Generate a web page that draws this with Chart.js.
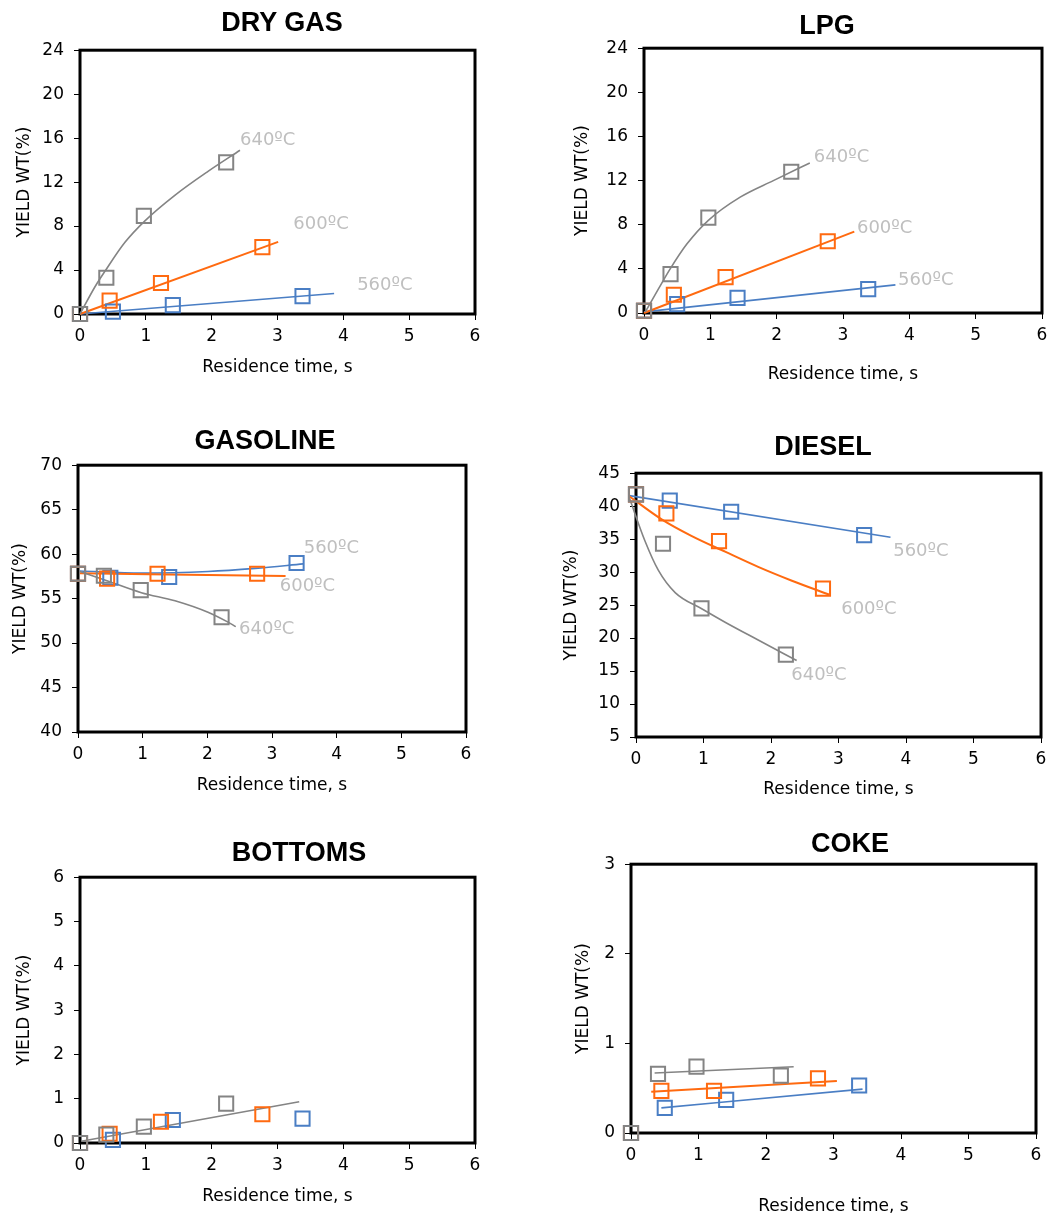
<!DOCTYPE html>
<html>
<head>
<meta charset="utf-8">
<script src="https://cdn.jsdelivr.net/npm/chart.js@4.4.0/dist/chart.umd.min.js"></script>
<style>
  html, body { margin: 0; padding: 0; background: #fff; }
  body { width: 1055px; height: 1219px; position: relative; overflow: hidden; }
  canvas { position: absolute; }
  .ttl { position: absolute; transform: translate(-50%, -50%); font: bold 27px "Liberation Sans", Arial, sans-serif; white-space: nowrap; color: #000; }
</style>
</head>
<body>
<script>
// residence times (s) for each temperature
const t560 = [0, 0.5, 1.41, 3.38];
const t600 = [0, 0.45, 1.23, 2.77];
const t640 = [0, 0.4, 0.97, 2.22];
const tempNames = ['560ºC', '600ºC', '640ºC'];

// DRY GAS
const dryGas560 = [0, 0.22, 0.81, 1.63];
const dryGas600 = [0, 1.22, 2.82, 6.09];
const dryGas640 = [0, 3.3, 8.93, 13.8];
const dryGasFit560X = [0, 3.86], dryGasFit560Y = [0, 1.87];
const dryGasFit600X = [0, 3.01], dryGasFit600Y = [0, 6.56];
const dryGasFit640X = [0, 0.23, 0.38, 0.68, 0.99, 1.44, 1.95, 2.43];
const dryGasFit640Y = [0, 2.5, 3.9, 6.5, 8.5, 10.8, 13.0, 14.9];

// LPG
const lpg560 = [0.2, 0.8, 1.37, 2.17];
const lpg600 = [0.2, 1.65, 3.25, 6.5];
const lpg640 = [0.2, 3.52, 8.65, 12.8];
const lpgFit560X = [0, 3.79], lpgFit560Y = [0.1, 2.55];
const lpgFit600X = [0, 3.17], lpgFit600Y = [0, 7.37];
const lpgFit640X = [0.02, 0.22, 0.39, 0.64, 0.97, 1.45, 1.95, 2.5];
const lpgFit640Y = [0.1, 2.2, 3.95, 6.2, 8.4, 10.5, 12.0, 13.6];

// GASOLINE
const gas560 = [57.8, 57.35, 57.43, 59.0];
const gas600 = [57.8, 57.25, 57.8, 57.8];
const gas640 = [57.8, 57.57, 55.96, 52.9];
const gasFit560X = [0.03, 0.98, 2.01, 2.74, 3.48], gasFit560Y = [58.1, 57.87, 58.05, 58.4, 58.9];
const gasFit600X = [0.03, 3.21], gasFit600Y = [57.85, 57.55];
const gasFit640X = [0.03, 0.47, 0.98, 1.5, 2.01, 2.32, 2.44];
const gasFit640Y = [58.05, 56.95, 55.66, 54.75, 53.46, 52.35, 51.85];

// DIESEL
const dsl560 = [41.8, 40.84, 39.15, 35.6];
const dsl600 = [41.8, 38.9, 34.7, 27.5];
const dsl640 = [41.8, 34.3, 24.5, 17.5];
const dslFit560X = [-0.1, 3.77], dslFit560Y = [41.6, 35.3];
const dslFit600X = [-0.1, 0.38, 0.82, 1.32, 1.81, 2.31, 2.86];
const dslFit600Y = [41.5, 38.0, 35.5, 33.1, 30.8, 28.7, 26.6];
const dslFit640X = [-0.1, 0.13, 0.33, 0.58, 0.98, 1.32, 1.81, 2.38];
const dslFit640Y = [41.3, 34.8, 30.3, 26.9, 24.4, 22.4, 19.7, 16.6];

// BOTTOMS
const btm560 = [0, 0.07, 0.52, 0.55];
const btm600 = [0, 0.21, 0.48, 0.65];
const btm640 = [0, 0.19, 0.37, 0.89];
const btmFit640X = [0.02, 3.33], btmFit640Y = [0.04, 0.93];

// COKE
const coke560 = [0, 0.28, 0.37, 0.53];
const coke600 = [0, 0.47, 0.47, 0.61];
const coke640 = [0, 0.66, 0.74, 0.64];
const cokeFit560X = [0.45, 3.43], cokeFit560Y = [0.28, 0.49];
const cokeFit600X = [0.30, 3.05], cokeFit600Y = [0.46, 0.58];
const cokeFit640X = [0.35, 2.41], cokeFit640Y = [0.67, 0.74];

const COL = { 560: '#4A7EC4', 600: '#FF6A10', 640: '#848484' };
const FONT = '"DejaVu Sans", sans-serif';
const LH = 17 * 1.2;

const pts = (xs, ys) => xs.map((x, i) => ({ x: x, y: ys[i] }));

// thick box round the plot area
const frame = {
    id: 'frame',
    beforeDatasetsDraw(chart) {
        const { ctx, chartArea: a } = chart;
        ctx.save();
        ctx.lineWidth = 3;
        ctx.strokeStyle = '#000';
        ctx.strokeRect(a.left, a.top, a.right - a.left, a.bottom - a.top);
        ctx.restore();
    }
};

// light grey temperature labels next to the curves
const tempLabels = {
    id: 'tempLabels',
    afterDatasetsDraw(chart, args, opts) {
        const items = opts.items || [];
        const { ctx, scales } = chart;
        ctx.save();
        ctx.font = '18px ' + FONT;
        ctx.fillStyle = '#BFBFBF';
        ctx.textAlign = 'left';
        ctx.textBaseline = 'middle';
        items.forEach(it => ctx.fillText(it.text, scales.x.getPixelForValue(it.x), scales.y.getPixelForValue(it.y)));
        ctx.restore();
    }
};

function panel(p) {
    const yw = Math.round(p.L - p.yTitleX + LH / 2);
    const xh = Math.round(p.xTitleY + LH / 2 - p.B);
    const padT = 15, padR = 12;
    const w = p.R - p.L + yw + padR;
    const h = p.B - p.T + xh + padT;

    const cv = document.createElement('canvas');
    cv.width = w; cv.height = h;
    cv.style.left = (p.L - yw) + 'px';
    cv.style.top = (p.T - padT) + 'px';
    cv.style.width = w + 'px';
    cv.style.height = h + 'px';
    document.body.appendChild(cv);

    const ttl = document.createElement('div');
    ttl.className = 'ttl';
    ttl.textContent = p.title;
    ttl.style.left = p.titleX + 'px';
    ttl.style.top = p.titleY + 'px';
    document.body.appendChild(ttl);

    const datasets = [];
    // grey first so it sits on top
    [640, 600, 560].forEach(k => {
        const s = p.series[k];
        datasets.push({
            data: pts(s.t, s.v),
            showLine: false,
            pointStyle: 'rect',
            pointRadius: 10,
            pointBorderWidth: 2,
            pointBorderColor: COL[k],
            pointBackgroundColor: 'transparent',
            clip: false
        });
    });
    [640, 600, 560].forEach(k => {
        const f = p.fits[k];
        if (!f) return;
        datasets.push({
            data: pts(f.x, f.y),
            showLine: true,
            borderColor: COL[k],
            borderWidth: k === 600 ? 2 : 1.6,
            pointRadius: 0,
            cubicInterpolationMode: 'monotone',
            fill: false,
            clip: false
        });
    });

    const tickFont = { family: FONT, size: 17 };
    new Chart(cv, {
        type: 'scatter',
        data: { datasets: datasets },
        plugins: [frame, tempLabels],
        options: {
            responsive: false,
            animation: false,
            events: [],
            layout: { padding: { top: padT, right: padR, left: 0, bottom: 0 } },
            plugins: {
                legend: { display: false },
                tooltip: { enabled: false },
                tempLabels: { items: p.labels || [] }
            },
            scales: {
                x: {
                    type: 'linear', min: 0, max: 6,
                    afterFit: s => { s.height = xh; },
                    ticks: { stepSize: 1, color: '#000', font: tickFont, padding: 6, maxRotation: 0, autoSkip: false },
                    grid: { drawOnChartArea: false, drawTicks: true, tickLength: 6, color: '#000', lineWidth: 1 },
                    border: { display: false },
                    title: { display: true, text: 'Residence time, s', color: '#000', font: { family: FONT, size: 17, lineHeight: 1.2 }, padding: 0 }
                },
                y: {
                    type: 'linear', min: p.yMin, max: p.yMax,
                    afterFit: s => { s.width = yw; },
                    ticks: { stepSize: p.yStep, color: '#000', font: tickFont, padding: 10 },
                    grid: { drawOnChartArea: false, drawTicks: true, tickLength: 6, color: '#000', lineWidth: 1 },
                    border: { display: false },
                    title: { display: true, text: 'YIELD WT(%)', color: '#000', font: { family: FONT, size: 17, lineHeight: 1.2 }, padding: 0 }
                }
            }
        }
    });
}

panel({
    title: 'DRY GAS', titleX: 282, titleY: 22,
    L: 80, R: 475, T: 45, B: 314, yTitleX: 24, xTitleY: 368,
    yMin: 0, yMax: 24, yStep: 4,
    series: { 560: { t: t560, v: dryGas560 }, 600: { t: t600, v: dryGas600 }, 640: { t: t640, v: dryGas640 } },
    fits: { 560: { x: dryGasFit560X, y: dryGasFit560Y }, 600: { x: dryGasFit600X, y: dryGasFit600Y }, 640: { x: dryGasFit640X, y: dryGasFit640Y } },
    labels: [{ text: tempNames[2], x: 2.43, y: 15.8 }, { text: tempNames[1], x: 3.24, y: 8.2 }, { text: tempNames[0], x: 4.21, y: 2.6 }]
});

panel({
    title: 'LPG', titleX: 827, titleY: 25,
    L: 644, R: 1042, T: 43, B: 313, yTitleX: 582, xTitleY: 375,
    yMin: 0, yMax: 24, yStep: 4,
    series: { 560: { t: t560, v: lpg560 }, 600: { t: t600, v: lpg600 }, 640: { t: t640, v: lpg640 } },
    fits: { 560: { x: lpgFit560X, y: lpgFit560Y }, 600: { x: lpgFit600X, y: lpgFit600Y }, 640: { x: lpgFit640X, y: lpgFit640Y } },
    labels: [{ text: tempNames[2], x: 2.56, y: 14.1 }, { text: tempNames[1], x: 3.21, y: 7.7 }, { text: tempNames[0], x: 3.83, y: 3.0 }]
});

panel({
    title: 'GASOLINE', titleX: 265, titleY: 440,
    L: 78, R: 466, T: 460, B: 732, yTitleX: 20, xTitleY: 786,
    yMin: 40, yMax: 70, yStep: 5,
    series: { 560: { t: t560, v: gas560 }, 600: { t: t600, v: gas600 }, 640: { t: t640, v: gas640 } },
    fits: { 560: { x: gasFit560X, y: gasFit560Y }, 600: { x: gasFit600X, y: gasFit600Y }, 640: { x: gasFit640X, y: gasFit640Y } },
    labels: [{ text: tempNames[0], x: 3.49, y: 60.6 }, { text: tempNames[1], x: 3.12, y: 56.4 }, { text: tempNames[2], x: 2.49, y: 51.5 }]
});

panel({
    title: 'DIESEL', titleX: 823, titleY: 446,
    L: 636, R: 1041, T: 468, B: 737, yTitleX: 571, xTitleY: 790,
    yMin: 5, yMax: 45, yStep: 5,
    series: { 560: { t: t560, v: dsl560 }, 600: { t: t600, v: dsl600 }, 640: { t: t640, v: dsl640 } },
    fits: { 560: { x: dslFit560X, y: dslFit560Y }, 600: { x: dslFit600X, y: dslFit600Y }, 640: { x: dslFit640X, y: dslFit640Y } },
    labels: [{ text: tempNames[0], x: 3.81, y: 33.1 }, { text: tempNames[1], x: 3.04, y: 24.3 }, { text: tempNames[2], x: 2.30, y: 14.4 }]
});

panel({
    title: 'BOTTOMS', titleX: 299, titleY: 852,
    L: 80, R: 475, T: 872, B: 1143, yTitleX: 24, xTitleY: 1197,
    yMin: 0, yMax: 6, yStep: 1,
    series: { 560: { t: t560, v: btm560 }, 600: { t: t600, v: btm600 }, 640: { t: t640, v: btm640 } },
    fits: { 640: { x: btmFit640X, y: btmFit640Y } }
});

panel({
    title: 'COKE', titleX: 850, titleY: 843,
    L: 631, R: 1036, T: 859, B: 1133, yTitleX: 583, xTitleY: 1207,
    yMin: 0, yMax: 3, yStep: 1,
    series: { 560: { t: t560, v: coke560 }, 600: { t: t600, v: coke600 }, 640: { t: t640, v: coke640 } },
    fits: { 560: { x: cokeFit560X, y: cokeFit560Y }, 600: { x: cokeFit600X, y: cokeFit600Y }, 640: { x: cokeFit640X, y: cokeFit640Y } }
});
</script>
</body>
</html>
